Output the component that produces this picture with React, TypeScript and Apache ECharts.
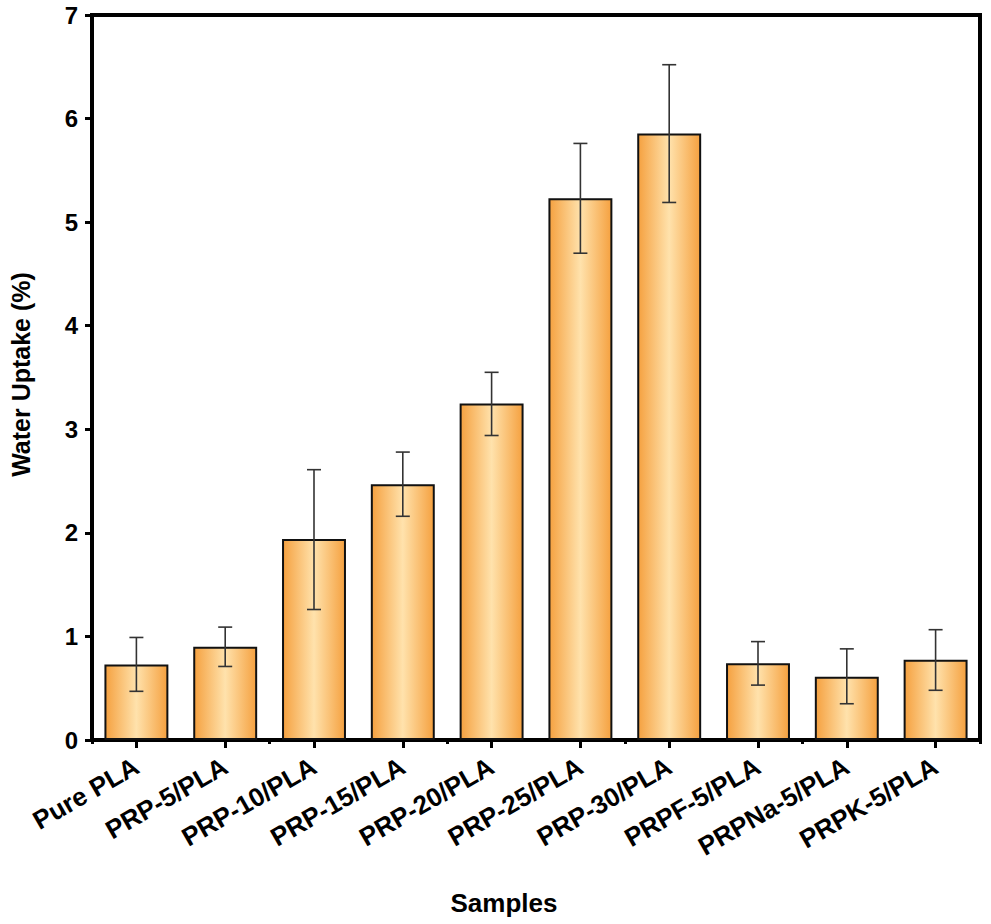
import React, { useEffect, useRef } from "react";
import * as echarts from "echarts";

const categories = [
  "Pure PLA",
  "PRP-5/PLA",
  "PRP-10/PLA",
  "PRP-15/PLA",
  "PRP-20/PLA",
  "PRP-25/PLA",
  "PRP-30/PLA",
  "PRPF-5/PLA",
  "PRPNa-5/PLA",
  "PRPK-5/PLA",
];
const values = [0.73, 0.9, 1.94, 2.47, 3.25, 5.23, 5.855, 0.74, 0.61, 0.775];
const errLow = [0.47, 0.71, 1.26, 2.16, 2.94, 4.7, 5.19, 0.53, 0.35, 0.48];
const errHigh = [0.99, 1.09, 2.61, 2.78, 3.55, 5.76, 6.52, 0.95, 0.88, 1.065];
const yTicks = [0, 1, 2, 3, 4, 5, 6, 7];

const FONT = "'Liberation Sans', Arial, sans-serif";

export default function App() {
  const ref = useRef<HTMLDivElement>(null);
  useEffect(() => {
    document.body.style.margin = "0";
    const chart = echarts.init(ref.current!, null, { renderer: "svg" });
    const gradient = new echarts.graphic.LinearGradient(0, 0, 1, 0, [
      { offset: 0, color: "#F5A140" },
      { offset: 0.5, color: "#FFE2AC" },
      { offset: 1, color: "#F5A140" },
    ]);
    chart.setOption({
      animation: false,
      backgroundColor: "#fff",
      grid: {
        left: 87,
        right: 11,
        top: 15,
        bottom: 184,
        show: true,
        borderColor: "#000",
        borderWidth: 4,
        backgroundColor: "transparent",
      },
      xAxis: [
        {
          type: "category",
          data: categories,
          name: "Samples",
          nameLocation: "middle",
          nameGap: 150,
          nameTextStyle: {
            fontFamily: FONT,
            fontWeight: "bold",
            fontSize: 26,
            color: "#000",
            padding: [0, 64, 0, 0],
          },
          axisLine: { show: true, lineStyle: { color: "#000", width: 4 } },
          axisTick: { show: true, alignWithLabel: true, length: 8, lineStyle: { color: "#000", width: 3 } },
          axisLabel: {
            rotate: 30,
            interval: 0,
            margin: 24,
            fontFamily: FONT,
            fontWeight: "bold",
            fontSize: 26,
            color: "#000",
          },
          splitLine: { show: false },
        },
        {
          type: "category",
          data: categories,
          position: "bottom",
          axisLine: { show: false },
          axisTick: { show: true, alignWithLabel: false, length: 4, lineStyle: { color: "#000", width: 3 } },
          axisLabel: { show: false },
          splitLine: { show: false },
        },
      ],
      yAxis: {
        type: "value",
        min: 0,
        max: 7,
        interval: 1,
        name: "Water Uptake (%)",
        nameLocation: "middle",
        nameGap: 59,
        nameTextStyle: {
          fontFamily: FONT,
          fontWeight: "bold",
          fontSize: 25,
          color: "#000",
          padding: [0, 0, 0, 6],
        },
        axisLine: { show: true, lineStyle: { color: "#000", width: 4 } },
        axisTick: { show: true, length: 7, lineStyle: { color: "#000", width: 3 } },
        axisLabel: {
          margin: 14,
          fontFamily: FONT,
          fontWeight: "bold",
          fontSize: 24,
          color: "#000",
          formatter: (v: number) => (yTicks.includes(v) ? String(v) : ""),
        },
        splitLine: { show: false },
      },
      series: [
        {
          type: "bar",
          data: values,
          barWidth: "72%",
          itemStyle: { color: gradient, borderColor: "#111", borderWidth: 2 },
          z: 2,
        },
        {
          type: "custom",
          data: categories.map((_, i) => [i, errLow[i], errHigh[i]]),
          z: 5,
          renderItem: (params: any, api: any) => {
            const i = api.value(0);
            const lo = api.coord([i, api.value(1)]);
            const hi = api.coord([i, api.value(2)]);
            const w = 7;
            const style = { stroke: "#333", lineWidth: 1.6 };
            return {
              type: "group",
              children: [
                { type: "line", shape: { x1: hi[0], y1: hi[1], x2: lo[0], y2: lo[1] }, style },
                { type: "line", shape: { x1: hi[0] - w, y1: hi[1], x2: hi[0] + w, y2: hi[1] }, style },
                { type: "line", shape: { x1: lo[0] - w, y1: lo[1], x2: lo[0] + w, y2: lo[1] }, style },
              ],
            };
          },
        },
      ],
    });
    return () => chart.dispose();
  }, []);
  return <div ref={ref} style={{ width: 991, height: 924 }} />;
}
